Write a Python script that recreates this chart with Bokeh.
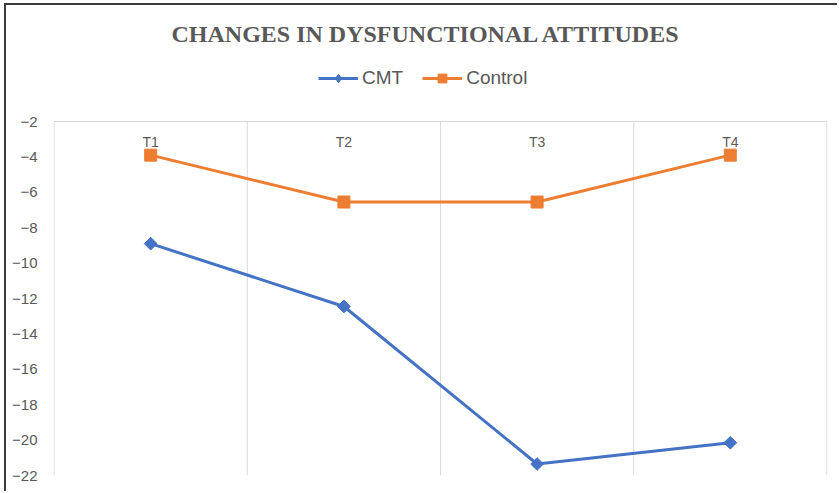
import numpy as np
from bokeh.plotting import figure
from bokeh.models import (FactorRange, Range1d, FixedTicker, Legend, LegendItem)
from bokeh.core.properties import value
from bokeh.embed import file_html
from bokeh.resources import INLINE

categories = ["T1", "T2", "T3", "T4"]
cmt = [-8.9, -12.45, -21.35, -20.15]
control = [-3.9, -6.55, -6.55, -3.9]
y_ticks = [-2, -4, -6, -8, -10, -12, -14, -16, -18, -20, -22]
y_min, y_max = -22, -2
title_text = "CHANGES IN DYSFUNCTIONAL ATTITUDES"

BLUE = "#4472C4"
ORANGE = "#ED7D31"
GREY_TXT = "#595959"
GRID = "#d9d9d9"

# layout (canvas pixels)
W, H = 833, 488
frame_top, frame_bottom = 55, 470
y_max_px = 116
px_per_unit = (frame_bottom - y_max_px) / (y_max - y_min)
y_top = y_max + (y_max_px - frame_top) / px_per_unit

p = figure(width=W, height=H,
           x_range=FactorRange(*categories, range_padding=0.003, range_padding_units="absolute"),
           y_range=Range1d(y_min, y_top),
           output_backend="svg", toolbar_location=None,
           x_axis_location=None,
           min_border_left=47, min_border_right=12,
           min_border_top=frame_top, min_border_bottom=H - frame_bottom)
p.outline_line_color = None
p.background_fill_color = "white"
p.border_fill_color = "white"
p.styles = {"border-left": "2px solid #3b3b3b", "border-top": "2px solid #3b3b3b",
            "margin-left": "4px", "margin-top": "3px"}

# title
p.title.text = title_text
p.title.align = "left"
p.title.offset = 118
p.title.standoff = 27
p.title.text_font = "Liberation Serif"
p.title.text_font_style = "bold"
p.title.text_font_size = "24px"
p.title.text_color = GREY_TXT

# y axis
p.yaxis.ticker = FixedTicker(ticks=y_ticks)
p.yaxis.axis_line_color = None
p.yaxis.major_tick_line_color = None
p.yaxis.minor_tick_line_color = None
p.yaxis.major_tick_out = 0
p.yaxis.major_tick_in = 0
p.yaxis.minor_tick_out = 0
p.yaxis.major_label_standoff = 16
p.yaxis.major_label_text_font = "Liberation Sans"
p.yaxis.major_label_text_font_size = "15px"
p.yaxis.major_label_text_color = GREY_TXT
p.ygrid.grid_line_color = None
p.xgrid.grid_line_color = None

# vertical category separators and top line
bounds = list(range(len(categories) + 1))
p.segment(x0=bounds, y0=[y_min] * len(bounds), x1=bounds, y1=[y_max] * len(bounds),
          line_color=GRID, line_width=1)
p.segment(x0=[bounds[0]], y0=[y_max], x1=[bounds[-1]], y1=[y_max],
          line_color=GRID, line_width=1)

# category labels inside top of plot
p.text(x=categories, y=[y_max] * len(categories), text=categories,
       text_font=value("Liberation Sans"), text_font_size="14px",
       text_color=GREY_TXT, text_align="center", text_baseline="middle",
       y_offset=20)

l1 = p.line(categories, cmt, line_color=BLUE, line_width=3)
s1 = p.scatter(categories, cmt, marker="square", angle=np.pi / 4, size=9,
               fill_color=BLUE, line_color=BLUE)
l2 = p.line(categories, control, line_color=ORANGE, line_width=3)
s2 = p.scatter(categories, control, marker="square", size=12,
               fill_color=ORANGE, line_color=ORANGE)
# hidden renderer used only to draw a diamond in the legend
s1_legend = p.scatter(categories, cmt, marker="diamond", size=12,
                      fill_color=BLUE, line_color=BLUE, visible=False)

legend = Legend(items=[LegendItem(label="CMT", renderers=[l1, s1_legend]),
                       LegendItem(label="Control", renderers=[l2, s2])],
                orientation="horizontal", location=(265, 386),
                label_text_font="Liberation Sans", label_text_font_size="19px",
                label_text_color=GREY_TXT, glyph_width=40, glyph_height=22,
                label_height=22,
                label_standoff=4, spacing=19, padding=0, margin=0,
                inactive_fill_alpha=0,
                border_line_color=None, background_fill_alpha=0)
p.add_layout(legend)

open("out.html", "w").write(file_html(p, INLINE))
